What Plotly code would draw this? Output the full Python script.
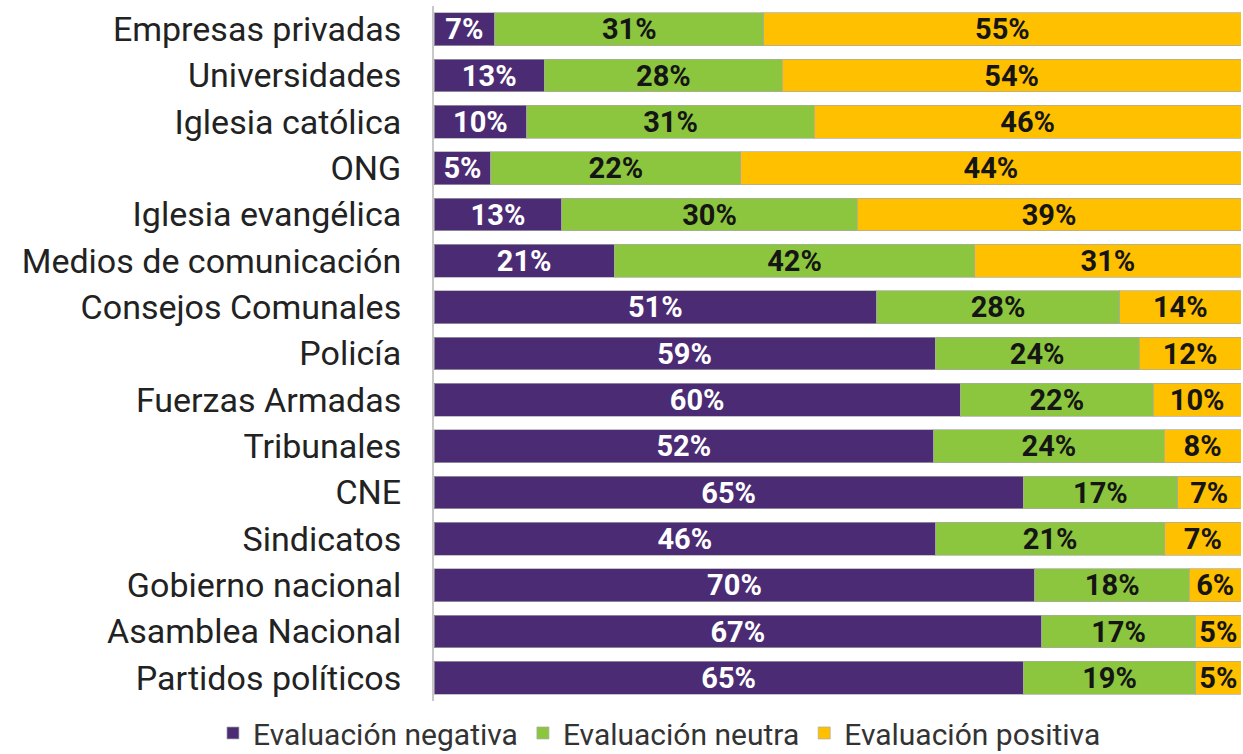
import plotly.graph_objects as go

categories = ["Empresas privadas", "Universidades", "Iglesia católica", "ONG",
              "Iglesia evangélica", "Medios de comunicación", "Consejos Comunales",
              "Policía", "Fuerzas Armadas", "Tribunales", "CNE", "Sindicatos",
              "Gobierno nacional", "Asamblea Nacional", "Partidos políticos"]
negativa = [7, 13, 10, 5, 13, 21, 51, 59, 60, 52, 65, 46, 70, 67, 65]
neutra = [31, 28, 31, 22, 30, 42, 28, 24, 22, 24, 17, 21, 18, 17, 19]
positiva = [55, 54, 46, 44, 39, 31, 14, 12, 10, 8, 7, 7, 6, 5, 5]

series = [
    ("Evaluación negativa", negativa, "#4B2C74", "white"),
    ("Evaluación neutra", neutra, "#8CC63F", "#151515"),
    ("Evaluación positiva", positiva, "#FFC000", "#151515"),
]

fig = go.Figure()
for name, vals, color, tcolor in series:
    fig.add_trace(go.Bar(
        y=categories, x=vals, name=name, orientation="h",
        marker=dict(color=color, line=dict(color="rgba(170,170,170,0.7)", width=1)),
        text=[f"{v}%" for v in vals], textposition="inside",
        insidetextanchor="middle", textangle=0,
        textfont=dict(family="Roboto", size=29, color=tcolor, weight="bold"),
        hoverinfo="skip",
    ))

fig.update_layout(
    barmode="stack", barnorm="percent", bargap=0.29,
    width=1243, height=754,
    margin=dict(l=434, r=2, t=6, b=53, autoexpand=False),
    paper_bgcolor="white", plot_bgcolor="white",
    font=dict(family="Roboto", color="#222222"),
    showlegend=True,
    uniformtext=dict(minsize=29, mode="show"),
    legend=dict(orientation="h", xref="paper", x=-0.2739, xanchor="left",
                yref="paper", y=-0.046, yanchor="middle",
                font=dict(size=30, color="#333333"), itemwidth=30,
                traceorder="normal"),
)
fig.update_xaxes(visible=False, range=[0, 100], fixedrange=True)
fig.update_yaxes(categoryorder="array", categoryarray=categories, autorange="reversed",
                 showline=True, linecolor="#c8c8c8", linewidth=2, showgrid=False,
                 ticks="outside", ticklen=24, tickcolor="rgba(0,0,0,0)",
                 tickfont=dict(size=34, color="#222222", family="Roboto"))

fig.write_html("out.html", config={"displayModeBar": False},
               post_script="document.body.style.margin='0';")
